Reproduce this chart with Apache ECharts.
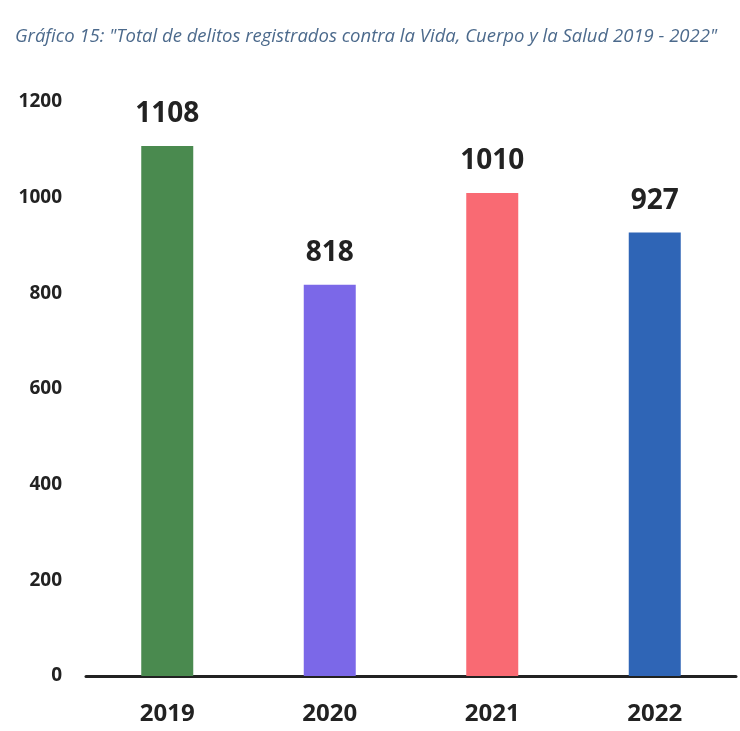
<!DOCTYPE html>
<html>
<head>
<meta charset="utf-8">
<script src="https://cdn.jsdelivr.net/npm/echarts@6/dist/echarts.min.js"></script>
<style>
html, body { margin: 0; padding: 0; background: #fff; }
#chart { width: 740px; height: 731px; }
</style>
</head>
<body>
<div id="chart"></div>
<script>
// datos
var years = ['2019', '2020', '2021', '2022'];
var delitos = [1108, 818, 1010, 927];
var barColors = ['#4a8a4f', '#7b68e8', '#f96a73', '#2f65b6'];

var chart = echarts.init(document.getElementById('chart'));

var option = {
    backgroundColor: '#fff',
    title: {
        text: 'Gráfico 15: "Total de delitos registrados contra la Vida, Cuerpo y la Salud 2019 - 2022"',
        left: 10,
        top: 22,
        textStyle: {
            fontFamily: 'Open Sans',
            fontStyle: 'italic',
            fontWeight: 'normal',
            fontSize: 18.5,
            color: '#4c6a8c'
        }
    },
    grid: {
        left: 86,
        right: 4,
        top: 102,
        bottom: 55
    },
    xAxis: {
        type: 'category',
        data: years,
        axisTick: { show: false },
        axisLine: { lineStyle: { color: '#222', width: 3 } },
        axisLabel: {
            margin: 26,
            fontFamily: 'Open Sans',
            fontWeight: 'bold',
            fontSize: 24,
            color: '#222'
        }
    },
    yAxis: {
        type: 'value',
        min: 0,
        max: 1200,
        interval: 200,
        splitLine: { show: false },
        axisLine: { show: false },
        axisTick: { show: false },
        axisLabel: {
            margin: 24,
            formatter: function (v) { return String(v); },
            fontFamily: 'Open Sans',
            fontWeight: 'bold',
            fontSize: 19,
            color: '#222'
        }
    },
    series: [
        {
            type: 'bar',
            barWidth: '32%',
            data: delitos.map(function (v, i) {
                return { value: v, itemStyle: { color: barColors[i] } };
            }),
            label: {
                show: true,
                position: 'top',
                distance: 18,
                fontFamily: 'Open Sans',
                fontWeight: 'bold',
                fontSize: 28,
                color: '#222'
            }
        }
    ]
};

chart.setOption(option);
</script>
</body>
</html>
